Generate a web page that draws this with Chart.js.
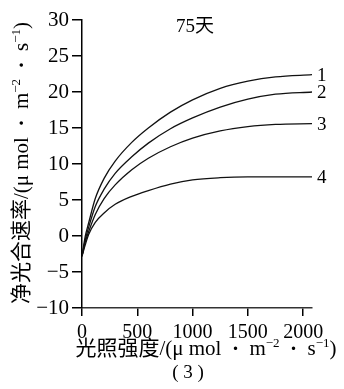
<!DOCTYPE html>
<html lang="zh">
<head>
    <meta charset="UTF-8">
    <title>75天 净光合速率</title>
    <script src="https://cdn.jsdelivr.net/npm/chart.js"></script>
    <style>
        body { margin: 0; background: #fff; }
        .box { width: 344px; height: 389px; }
    </style>
</head>
<body>
    <div class="box"><canvas id="rate-graph"></canvas></div>

    <script>
        // 光照强度 (x) and the four curves
        const lightX = [0, 30, 60, 120, 200, 300, 450, 600, 800, 1000, 1250, 1500, 1750, 2080];
        const line1 = [-2.8, 0, 1.8, 5.2, 8.0, 10.4, 13.0, 15.0, 17.2, 18.9, 20.5, 21.5, 22.1, 22.4];
        const line2 = [-2.8, -0.5, 1.2, 4.1, 6.5, 8.7, 11.0, 12.9, 14.9, 16.4, 17.9, 19.0, 19.7, 20.0];
        const line3 = [-2.8, -0.8, 0.6, 3.0, 5.2, 7.1, 9.2, 10.8, 12.4, 13.6, 14.6, 15.2, 15.5, 15.6];
        const line4 = [-2.8, -1.2, 0.2, 1.9, 3.2, 4.4, 5.5, 6.3, 7.2, 7.8, 8.1, 8.2, 8.2, 8.2];
        const curveNames = ['1', '2', '3', '4'];
        const xTicks = [0, 500, 1000, 1500, 2000];

        const serif = '"Liberation Serif", "Noto Sans CJK SC", serif';

        function toPoints(ys) {
            return ys.map((v, i) => ({ x: lightX[i], y: v }));
        }

        // draws text parts centred on (x, y); part[1]: 'sup' or 'dot' or ''
        function partFont(p, size) {
            if (p[1] === 'sup') return Math.round(size * 0.62) + 'px ' + serif;
            if (p[1] === 'dot') return 'bold ' + size + 'px ' + serif;
            return size + 'px ' + serif;
        }
        function drawRich(ctx, parts, x, y, size) {
            let total = 0;
            parts.forEach(p => {
                ctx.font = partFont(p, size);
                total += ctx.measureText(p[0]).width;
            });
            let cx = x - total / 2;
            ctx.textAlign = 'left';
            ctx.textBaseline = 'alphabetic';
            parts.forEach(p => {
                ctx.font = partFont(p, size);
                ctx.fillText(p[0], cx, p[1] === 'sup' ? y - size * 0.38 : y);
                cx += ctx.measureText(p[0]).width;
            });
        }

        const unitParts = [
            ['/(μ mol', ''], ['\u2002·\u2002', 'dot'], ['m', ''], ['−2', 'sup'],
            ['\u2002·\u2002', 'dot'], ['s', ''], ['−1', 'sup'], [')', '']
        ];

        const labelPlugin = {
            id: 'labels',
            afterDraw(chart) {
                const ctx = chart.ctx;
                const xs = chart.scales.x;
                const ys = chart.scales.y;
                ctx.save();
                ctx.fillStyle = '#000';

                // curve numbers
                ctx.font = '19px ' + serif;
                ctx.textAlign = 'left';
                ctx.textBaseline = 'middle';
                chart.data.datasets.forEach((ds, i) => {
                    const last = ds.data[ds.data.length - 1];
                    ctx.fillText(curveNames[i], xs.getPixelForValue(last.x) + 5, ys.getPixelForValue(last.y) + 1);
                });

                // title
                ctx.font = '19px ' + serif;
                ctx.textAlign = 'center';
                ctx.fillText('75天', 195, 27);

                // x title
                drawRich(ctx, [['光照强度', '']].concat(unitParts), 206, 355, 21);
                ctx.font = '19px ' + serif;
                ctx.textAlign = 'center';
                ctx.textBaseline = 'middle';
                ctx.fillText('( 3 )', 188, 373);

                // y title
                ctx.translate(21, 163);
                ctx.rotate(-Math.PI / 2);
                drawRich(ctx, [['净光合速率', '']].concat(unitParts), 0, 7, 21);
                ctx.restore();
            }
        };

        const ctx = document.getElementById('rate-graph').getContext('2d');
        const rateChart = new Chart(ctx, {
            type: 'line',
            data: {
                datasets: [line1, line2, line3, line4].map(ys => ({
                    data: toPoints(ys),
                    borderColor: '#111',
                    borderWidth: 1.3,
                    pointRadius: 0,
                    fill: false,
                    cubicInterpolationMode: 'monotone'
                }))
            },
            options: {
                responsive: true,
                maintainAspectRatio: false,
                animation: false,
                layout: { padding: { top: 20, right: 32, left: 0, bottom: 0 } },
                plugins: { legend: { display: false }, tooltip: { enabled: false } },
                scales: {
                    x: {
                        type: 'linear',
                        min: 0,
                        max: 2080,
                        afterFit(scale) { scale.height = 81; },
                        afterBuildTicks(scale) { scale.ticks = xTicks.map(v => ({ value: v })); },
                        ticks: {
                            autoSkip: false,
                            maxRotation: 0,
                            color: '#000',
                            padding: 5,
                            font: { family: serif, size: 20 },
                            callback: v => String(v)
                        },
                        grid: { drawOnChartArea: false, tickLength: 8, color: '#000', lineWidth: 1.5 },
                        border: { color: '#333', width: 1.5 }
                    },
                    y: {
                        min: -10,
                        max: 30,
                        afterFit(scale) { scale.width = 82; },
                        ticks: {
                            stepSize: 5,
                            color: '#000',
                            padding: 3,
                            font: { family: serif, size: 21 },
                            callback: v => String(v).replace('-', '−')
                        },
                        grid: { drawOnChartArea: false, tickLength: 10, color: '#000', lineWidth: 1.5 },
                        border: { color: '#000', width: 1.5 }
                    }
                }
            },
            plugins: [labelPlugin]
        });
    </script>
</body>
</html>
